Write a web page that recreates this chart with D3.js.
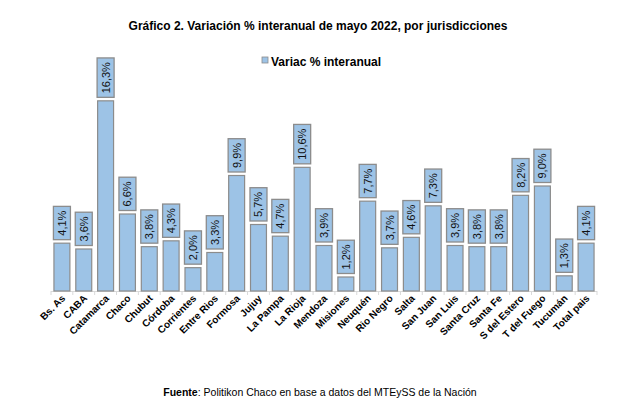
<!DOCTYPE html>
<html>
<head>
<meta charset="utf-8">
<script src="https://cdn.jsdelivr.net/npm/d3@7"></script>
<style>
  body { margin: 0; background: #fff; }
  text { font-family: "Liberation Sans", Arial, sans-serif; }
</style>
</head>
<body>
<div id="chart"></div>
<script>
// data
const provincias = ["Bs. As", "CABA", "Catamarca", "Chaco", "Chubut", "Córdoba", "Corrientes",
  "Entre Rios", "Formosa", "Jujuy", "La Pampa", "La Rioja", "Mendoza", "Misiones", "Neuquén",
  "Rio Negro", "Salta", "San Juan", "San Luis", "Santa Cruz", "Santa Fe", "S del Estero",
  "T del Fuego", "Tucumán", "Total pais"];
const variacion = [4.1, 3.6, 16.3, 6.6, 3.8, 4.3, 2.0, 3.3, 9.9, 5.7, 4.7, 10.6, 3.9, 1.2, 7.7,
  3.7, 4.6, 7.3, 3.9, 3.8, 3.8, 8.2, 9.0, 1.3, 4.1];
const serieNombre = "Variac % interanual";

const width = 640, height = 409;
const fillBar = "#9dc3e6", strokeBar = "#8c8c8c";

const svg = d3.select("#chart").append("svg")
    .attr("width", width)
    .attr("height", height);

const x = d3.scaleBand()
    .domain(provincias)
    .range([51, 597])
    .paddingInner(0.27)
    .paddingOuter(0.135);

const y = d3.scaleLinear()
    .domain([0, 18])
    .range([291, 81]);

const fmt = v => d3.format(".1f")(v).replace(".", ",") + "%";

// title
svg.append("text")
    .attr("x", 318).attr("y", 30)
    .attr("text-anchor", "middle")
    .attr("font-size", 12).attr("font-weight", "bold")
    .text("Gráfico 2. Variación % interanual de mayo 2022, por jurisdicciones");

// legend
svg.append("rect")
    .attr("x", 262).attr("y", 57).attr("width", 6).attr("height", 6)
    .attr("fill", fillBar).attr("stroke", strokeBar).attr("stroke-width", 0.8);
svg.append("text")
    .attr("x", 271).attr("y", 66)
    .attr("font-size", 12).attr("font-weight", "bold")
    .text(serieNombre);

// axis line and tick marks between categories
const axis = svg.append("g");
axis.append("line")
    .attr("x1", x.range()[0]).attr("x2", x.range()[1])
    .attr("y1", y(0) + 0.5).attr("y2", y(0) + 0.5)
    .attr("stroke", "#d9d9d9");
const step = x.step();
axis.selectAll("line.tick")
    .data(d3.range(provincias.length + 1))
    .join("line")
      .attr("class", "tick")
      .attr("x1", i => x.range()[0] + i * step)
      .attr("x2", i => x.range()[0] + i * step)
      .attr("y1", y(0)).attr("y2", y(0) + 4)
      .attr("stroke", "#d9d9d9");

// bars
svg.append("g")
  .selectAll("rect")
  .data(variacion)
  .join("rect")
    .attr("x", (d, i) => x(provincias[i]))
    .attr("y", d => y(d))
    .attr("width", x.bandwidth())
    .attr("height", d => y(0) - y(d))
    .attr("fill", fillBar)
    .attr("stroke", strokeBar)
    .attr("stroke-width", 1.2);

// value labels in boxes, rotated
const lab = svg.append("g")
  .selectAll("g")
  .data(variacion)
  .join("g")
    .attr("transform", (d, i) =>
      `translate(${x(provincias[i]) + x.bandwidth() / 2},${y(d) - 3.5}) rotate(-90)`);

lab.append("text")
    .attr("x", 4).attr("y", 4)
    .attr("font-size", 11)
    .attr("fill", "#111")
    .text(d => fmt(d))
    .each(function() {
      const b = this.getBBox();
      d3.select(this.parentNode).insert("rect", "text")
          .attr("x", 0).attr("y", -8.5)
          .attr("width", b.width + 8).attr("height", 17)
          .attr("fill", fillBar)
          .attr("stroke", strokeBar)
          .attr("stroke-width", 1.3);
    });

// category labels
svg.append("g")
  .selectAll("text")
  .data(provincias)
  .join("text")
    .attr("transform", d => `translate(${x(d) + x.bandwidth() / 2 + 4},${y(0) + 8}) rotate(-45)`)
    .attr("text-anchor", "end")
    .attr("font-size", 10).attr("font-weight", "bold")
    .text(d => d);

// source
const src = svg.append("text")
    .attr("x", 320).attr("y", 396)
    .attr("text-anchor", "middle")
    .attr("font-size", 10.5);
src.append("tspan").attr("font-weight", "bold").text("Fuente");
src.append("tspan").text(": Politikon Chaco en base a datos del MTEySS de la Nación");
</script>
</body>
</html>
